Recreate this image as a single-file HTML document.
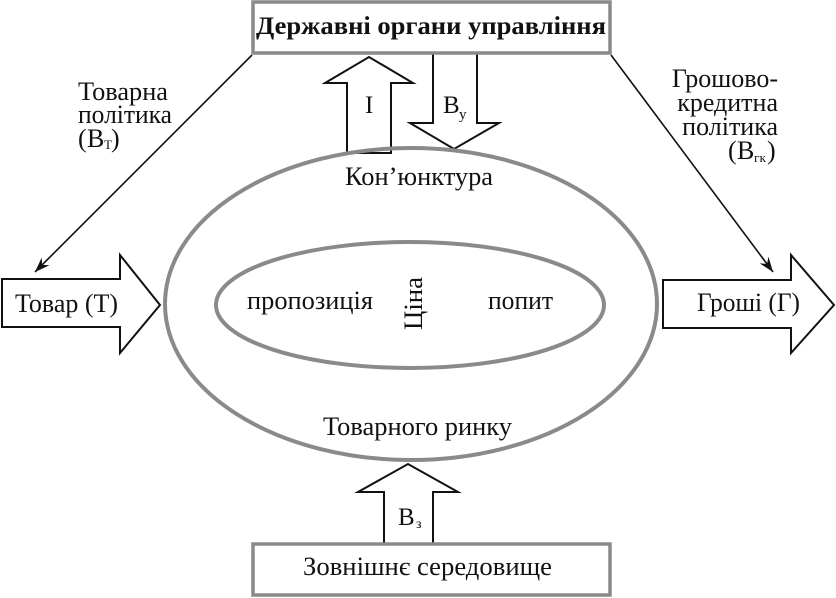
<!DOCTYPE html>
<html>
<head>
<meta charset="utf-8">
<style>
  html, body { margin:0; padding:0; background:#fff; }
  svg { display:block; }
  text { font-family: "Liberation Serif", "DejaVu Serif", serif; fill:#111; }
</style>
</head>
<body>
<svg width="836" height="598" viewBox="0 0 836 598" xmlns="http://www.w3.org/2000/svg">
  <defs>
    <marker id="ah" markerWidth="20" markerHeight="14" refX="0" refY="0" viewBox="-16 -7 18 14" orient="auto" markerUnits="userSpaceOnUse">
      <path d="M -15,-5.5 L 0,0 L -15,5.5 L -10,0 Z" fill="#111"/>
    </marker>
  </defs>
  <rect x="0" y="0" width="836" height="598" fill="#fff"/>

  <!-- policy lines -->
  <line x1="252" y1="55" x2="35" y2="272" stroke="#111" stroke-width="1.6" marker-end="url(#ah)"/>
  <line x1="611" y1="55" x2="773" y2="272" stroke="#111" stroke-width="1.6" marker-end="url(#ah)"/>

  <!-- I up arrow -->
  <polygon points="347,153 347,83 325,83 369,57 413,83 391,83 391,153" fill="#fff" stroke="#111" stroke-width="2"/>
  <!-- By down arrow -->
  <polygon points="433,52 433,123 410,123 454,149 499,123 477,123 477,52" fill="#fff" stroke="#111" stroke-width="2"/>
  <!-- Bz up arrow -->
  <polygon points="384,546 384,492 358,492 408,464 458,492 433,492 433,546" fill="#fff" stroke="#111" stroke-width="2"/>

  <!-- Tovar arrow -->
  <polygon points="2,279 120,279 120,255 160,305 120,353 120,327 2,327" fill="#fff" stroke="#111" stroke-width="2"/>
  <!-- Groshi arrow -->
  <polygon points="663,280 791,280 791,255 834,305 791,353 791,328 663,328" fill="#fff" stroke="#111" stroke-width="2"/>

  <!-- ellipses -->
  <ellipse cx="411" cy="304" rx="246" ry="156" fill="none" stroke="#8a8a8a" stroke-width="4"/>
  <ellipse cx="410" cy="305" rx="194" ry="63" fill="none" stroke="#8a8a8a" stroke-width="4"/>

  <!-- boxes -->
  <rect x="253" y="2" width="357" height="51" fill="#fff" stroke="#8a8a8a" stroke-width="3.5"/>
  <rect x="253" y="544" width="357" height="51" fill="#fff" stroke="#8a8a8a" stroke-width="3.5"/>

  <!-- box texts -->
  <text x="256" y="34" font-size="25" font-weight="bold" textLength="350" lengthAdjust="spacingAndGlyphs">Державні органи управління</text>
  <text x="303" y="575" font-size="26" textLength="249" lengthAdjust="spacingAndGlyphs">Зовнішнє середовище</text>

  <!-- left policy label -->
  <text x="78" y="100" font-size="26" textLength="90" lengthAdjust="spacingAndGlyphs">Товарна</text>
  <text x="78" y="123" font-size="26" textLength="94" lengthAdjust="spacingAndGlyphs">політика</text>
  <text font-size="26"><tspan x="78" y="147">(</tspan><tspan x="87" y="147">В</tspan><tspan x="104" y="149" font-size="13">Т</tspan><tspan x="111" y="147">)</tspan></text>

  <!-- right policy label -->
  <text x="778" y="87" font-size="26" text-anchor="end">Грошово-</text>
  <text x="778" y="111" font-size="26" text-anchor="end">кредитна</text>
  <text x="778" y="135" font-size="26" text-anchor="end">політика</text>
  <text font-size="26"><tspan x="728" y="159">(</tspan><tspan x="737" y="159">В</tspan><tspan x="754" y="162" font-size="13" textLength="12" lengthAdjust="spacingAndGlyphs">гк</tspan><tspan x="767" y="159">)</tspan></text>

  <!-- arrow labels -->
  <text x="15" y="312" font-size="26" textLength="103" lengthAdjust="spacingAndGlyphs">Товар (Т)</text>
  <text x="697" y="311" font-size="26" textLength="103" lengthAdjust="spacingAndGlyphs">Гроші (Г)</text>

  <text x="365" y="113" font-size="25">І</text>
  <text x="443" y="113" font-size="25">В</text>
  <text x="459" y="119" font-size="15">у</text>

  <text x="398" y="525" font-size="25">В</text>
  <text x="416" y="528" font-size="14">з</text>

  <!-- ellipse texts -->
  <text x="345" y="185" font-size="26" textLength="148" lengthAdjust="spacingAndGlyphs">Кон’юнктура</text>
  <text x="247" y="309" font-size="26" textLength="126" lengthAdjust="spacingAndGlyphs">пропозиція</text>
  <text x="488" y="309" font-size="26" textLength="65" lengthAdjust="spacingAndGlyphs">попит</text>
  <text transform="translate(422,330) rotate(-90)" font-size="26" textLength="53" lengthAdjust="spacingAndGlyphs">Ціна</text>
  <text x="323" y="435" font-size="26" textLength="189" lengthAdjust="spacingAndGlyphs">Товарного ринку</text>
</svg>
</body>
</html>
